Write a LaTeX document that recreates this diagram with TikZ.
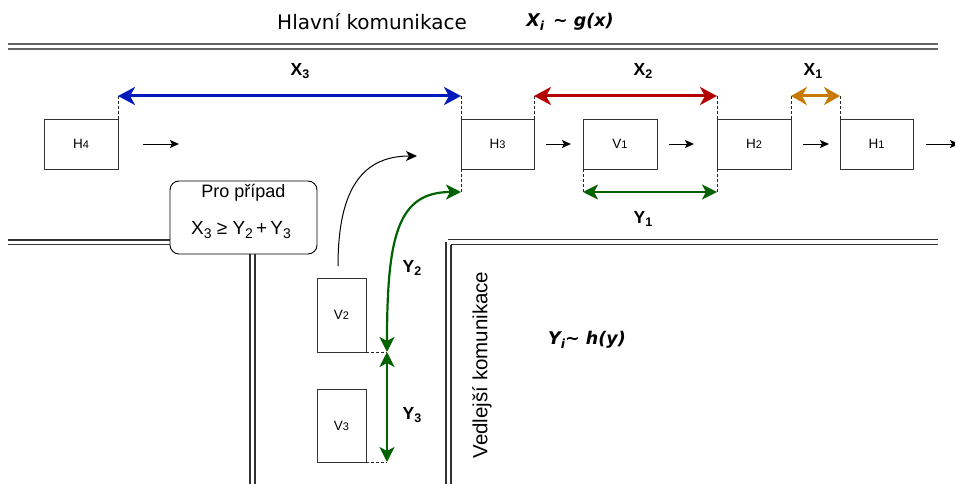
\documentclass[tikz,border=0pt]{standalone}
\usepackage{fontspec}
\setmainfont{Liberation Sans}
\newfontfamily\dejavu{DejaVu Sans}
\usetikzlibrary{arrows.meta}

\definecolor{dimblue}{RGB}{0,26,190}
\definecolor{dimred}{RGB}{180,0,0}
\definecolor{dimorange}{RGB}{200,122,0}
\definecolor{dimgreen}{RGB}{0,98,0}
\definecolor{roadgray}{RGB}{100,100,100}
\definecolor{roaddark}{RGB}{50,50,50}

\newcommand{\sublbl}[2]{#1\raisebox{-0.4ex}{\fontsize{12.5}{12.5}\selectfont #2}}
\newcommand{\condsub}[2]{#1\raisebox{-0.4ex}{\fontsize{14}{14}\selectfont #2}}
\newcommand{\carlbl}[2]{#1{\fontsize{11}{11}\selectfont #2}}

\tikzset{
  car/.style={draw=black!80, line width=0.9pt, inner sep=0pt, outer sep=0pt,
    minimum width=74pt, minimum height=50pt, font=\fontsize{13.5}{13.5}\selectfont},
  sidecar/.style={car, minimum width=49pt, minimum height=74pt},
  ext/.style={draw=black!85, line width=0.8pt, dash pattern=on 3pt off 2pt},
  bigtip/.tip={Stealth[length=17pt,width=18pt,inset=5pt]},
  midtip/.tip={Stealth[length=15pt,width=15pt,inset=4pt]},
  gap/.style={line width=3pt, bigtip-bigtip},
  ygap/.style={line width=2.2pt, midtip-midtip, draw=dimgreen},
  flow/.style={draw=black, line width=1pt, -{Stealth[length=9pt,width=8pt,inset=2pt]}},
  road/.style={line width=1.4pt},
  dimlbl/.style={font=\bfseries\fontsize{17.5}{17.5}\selectfont},
}

\begin{document}
\begin{tikzpicture}[x=1pt,y=-1pt]
\useasboundingbox (0,0) rectangle (955,484);

% main road edges
\draw[road, roadgray] (8,44) -- (938,44);
\draw[road, roadgray] (8,49) -- (938,49);
\draw[road, roaddark] (8,240) -- (170,240);
\draw[road, roaddark] (8,244.5) -- (170,244.5);
\draw[road, roaddark] (448,239.5) -- (938,239.5);
\draw[road, roaddark] (451,244.5) -- (938,244.5);
% side road edges
\draw[road, roaddark] (250,254) -- (250,484);
\draw[road, roaddark] (255,254) -- (255,484);
\draw[road, roaddark] (446,242) -- (446,484);
\draw[road, roaddark] (451,244.5) -- (451,484);

% captions
\node[font=\dejavu\fontsize{20}{20}\selectfont] (title) at (372,22) {Hlavní komunikace};
\node[font=\dejavu\bfseries\itshape\fontsize{17.5}{17.5}\selectfont] (gx) at (570,22)
  {X\raisebox{-0.35ex}{\fontsize{12.5}{12.5}\selectfont i} \,{\textasciitilde} g(x)};
\node[font=\dejavu\bfseries\itshape\fontsize{17.5}{17.5}\selectfont] (hy) at (587,340)
  {Y\raisebox{-0.35ex}{\fontsize{12.5}{12.5}\selectfont i}{\textasciitilde} h(y)};
\node[font=\fontsize{20.5}{20.5}\selectfont, rotate=90] (side) at (482,365) {Vedlejší komunikace};

% cars on the main road
\node[car] (h4) at (81,144) {\carlbl{H}{4}};
\node[car, minimum width=73pt] (h3) at (497.5,144) {\carlbl{H}{3}};
\node[car] (v1) at (620,144) {\carlbl{V}{1}};
\node[car] (h2) at (754,144) {\carlbl{H}{2}};
\node[car, minimum width=73pt] (h1) at (876.5,144) {\carlbl{H}{1}};
% cars waiting on the side road
\node[sidecar] (v2) at (341.5,315) {\carlbl{V}{2}};
\node[sidecar, minimum height=73pt] (v3) at (341.5,425.5) {\carlbl{V}{3}};

% condition box
\node[draw=black, line width=0.9pt, rounded corners=9pt, fill=white, minimum width=147pt,
  minimum height=73pt, inner sep=0pt] (cond) at (243.5,217.5) {};
\node[font=\fontsize{18}{18}\selectfont] (condA) at (243.5,193) {Pro případ};
\node[font=\fontsize{19}{19}\selectfont] (condB) at (241,230)
  {\condsub{X}{3} ≥ \condsub{Y}{2}\,+\,\condsub{Y}{3}};

% traffic direction
\coordinate (f1a) at (143,144); \coordinate (f1b) at (179,144);
\coordinate (f2a) at (546,144); \coordinate (f2b) at (571,144);
\coordinate (f3a) at (669,144); \coordinate (f3b) at (694,144);
\coordinate (f4a) at (803,144); \coordinate (f4b) at (829,144);
\coordinate (f5a) at (926,144); \coordinate (f5b) at (959,144);
\draw[flow] (f1a) -- (f1b);
\draw[flow] (f2a) -- (f2b);
\draw[flow] (f3a) -- (f3b);
\draw[flow] (f4a) -- (f4b);
\draw[flow] (f5a) -- (f5b);

% turning manoeuvre of V2
\coordinate (turnA) at (338,266);
\coordinate (turnB) at (417,156);
\draw[draw=black, line width=1pt, -{Stealth[length=11pt,width=10pt,inset=3pt]}]
  (turnA) .. controls (338,196) and (358,156) .. (turnB);

% extension lines for the gaps
\coordinate (e4) at (118,96);
\coordinate (e3t) at (461,96);
\coordinate (e3r) at (534,96);
\coordinate (e2l) at (717,96);
\coordinate (e2r) at (791,96);
\coordinate (e1) at (840,96);
\coordinate (e3b) at (461,192);
\coordinate (ev1) at (583,192);
\coordinate (eh2) at (717,192);
\coordinate (ev2) at (387,352);
\coordinate (ev3) at (387,462);
\draw[ext] (h4.north east) -- (e4);
\draw[ext] (h3.north west) -- (e3t);
\draw[ext] (h3.north east) -- (e3r);
\draw[ext] (h2.north west) -- (e2l);
\draw[ext] (h2.north east) -- (e2r);
\draw[ext] (h1.north west) -- (e1);
\draw[ext] (h3.south west) -- (e3b);
\draw[ext] (v1.south west) -- (ev1);
\draw[ext] (h2.south west) -- (eh2);
\draw[ext] (v2.south east) -- (ev2);
\draw[ext] (v3.south east) -- (ev3);

% gaps on the main road
\draw[gap, dimblue] (e4) -- (e3t);
\draw[gap, dimred] (e3r) -- (e2l);
\draw[gap, dimorange, {Stealth[length=16pt,width=18pt,inset=5pt]}-{Stealth[length=16pt,width=18pt,inset=5pt]}] (e2r) -- (e1);
\draw[ygap, line width=2pt] (ev1) -- (eh2);
% gaps on the side road
\draw[ygap] (ev2) .. controls (387,235) and (398,192) .. (e3b);
\draw[ygap] (ev2) -- (ev3);

% gap labels
\node[dimlbl] (lx3) at (300,71) {\sublbl{X}{3}};
\node[dimlbl] (lx2) at (643,71) {\sublbl{X}{2}};
\node[dimlbl] (lx1) at (813,71) {\sublbl{X}{1}};
\node[dimlbl] (ly1) at (643,219) {\sublbl{Y}{1}};
\node[dimlbl] (ly2) at (412,268) {\sublbl{Y}{2}};
\node[dimlbl] (ly3) at (412,415) {\sublbl{Y}{3}};
\end{tikzpicture}
\end{document}
